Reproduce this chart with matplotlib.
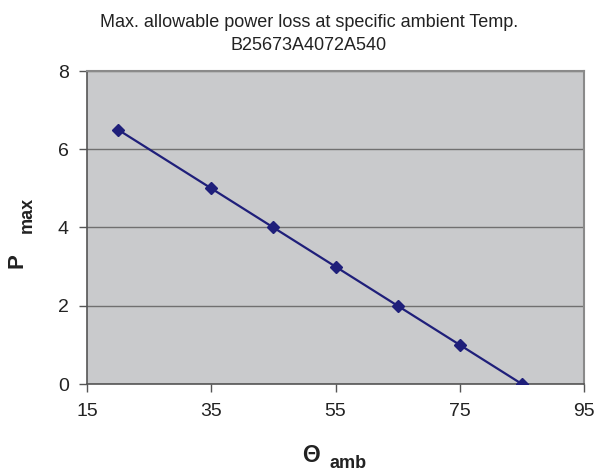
import matplotlib
matplotlib.use("Agg")
import matplotlib.pyplot as plt

temps = [20, 35, 45, 55, 65, 75, 85]
pmax = [6.5, 5, 4, 3, 2, 1, 0]
x_ticks = [15, 35, 55, 75, 95]
y_ticks = [0, 2, 4, 6, 8]

plt.rcParams['font.family'] = ['Liberation Sans', 'DejaVu Sans']

W, H = 598, 473
fig = plt.figure(figsize=(W/100, H/100), dpi=100)
ax = fig.add_axes([87/W, 1-384/H, (584-87)/W, (384-71)/H])
ax.set_facecolor('#C9CACC')
ax.plot(temps, pmax, color='#1F1F7A', lw=1.6, marker='D', markersize=6, zorder=3)
ax.set_xlim(15, 95)
ax.set_ylim(0, 8)
ax.set_xticks(x_ticks)
ax.set_yticks(y_ticks)
ax.yaxis.grid(True, color='#707070', lw=1.0)
ax.set_axisbelow(True)
for s in ['top', 'right']:
    ax.spines[s].set_color('#8A8A8A')
    ax.spines[s].set_linewidth(1.5)
for s in ['left', 'bottom']:
    ax.spines[s].set_color('#555555')
    ax.spines[s].set_linewidth(1.2)
ax.tick_params(axis='both', labelsize=14, length=6, width=1, color='#555555',
               direction='out', labelcolor='#222222')
ax.tick_params(axis='x', pad=8)
ax.tick_params(axis='y', pad=7)

def px(x, y):
    return x/W, 1-y/H

fig.text(*px(309, 27), 'Max. allowable power loss at specific ambient Temp.', ha='center',
         va='baseline', fontsize=13, color='#222222')
fig.text(*px(309, 50), 'B25673A4072A540', ha='center', va='baseline', fontsize=13, color='#222222')

fig.text(*px(302, 462), 'Θ', ha='left', va='baseline', fontsize=16.5, fontweight='bold', color='#222222')
fig.text(*px(330, 468), 'amb', ha='left', va='baseline', fontsize=13, fontweight='bold', color='#222222')
fig.text(*px(23, 268), 'P', ha='left', va='baseline', fontsize=16, fontweight='bold',
         rotation=90, rotation_mode='anchor', color='#222222')
fig.text(*px(32, 233), 'max', ha='left', va='baseline', fontsize=13, fontweight='bold',
         rotation=90, rotation_mode='anchor', color='#222222')

fig.savefig('out.png', dpi=100)
